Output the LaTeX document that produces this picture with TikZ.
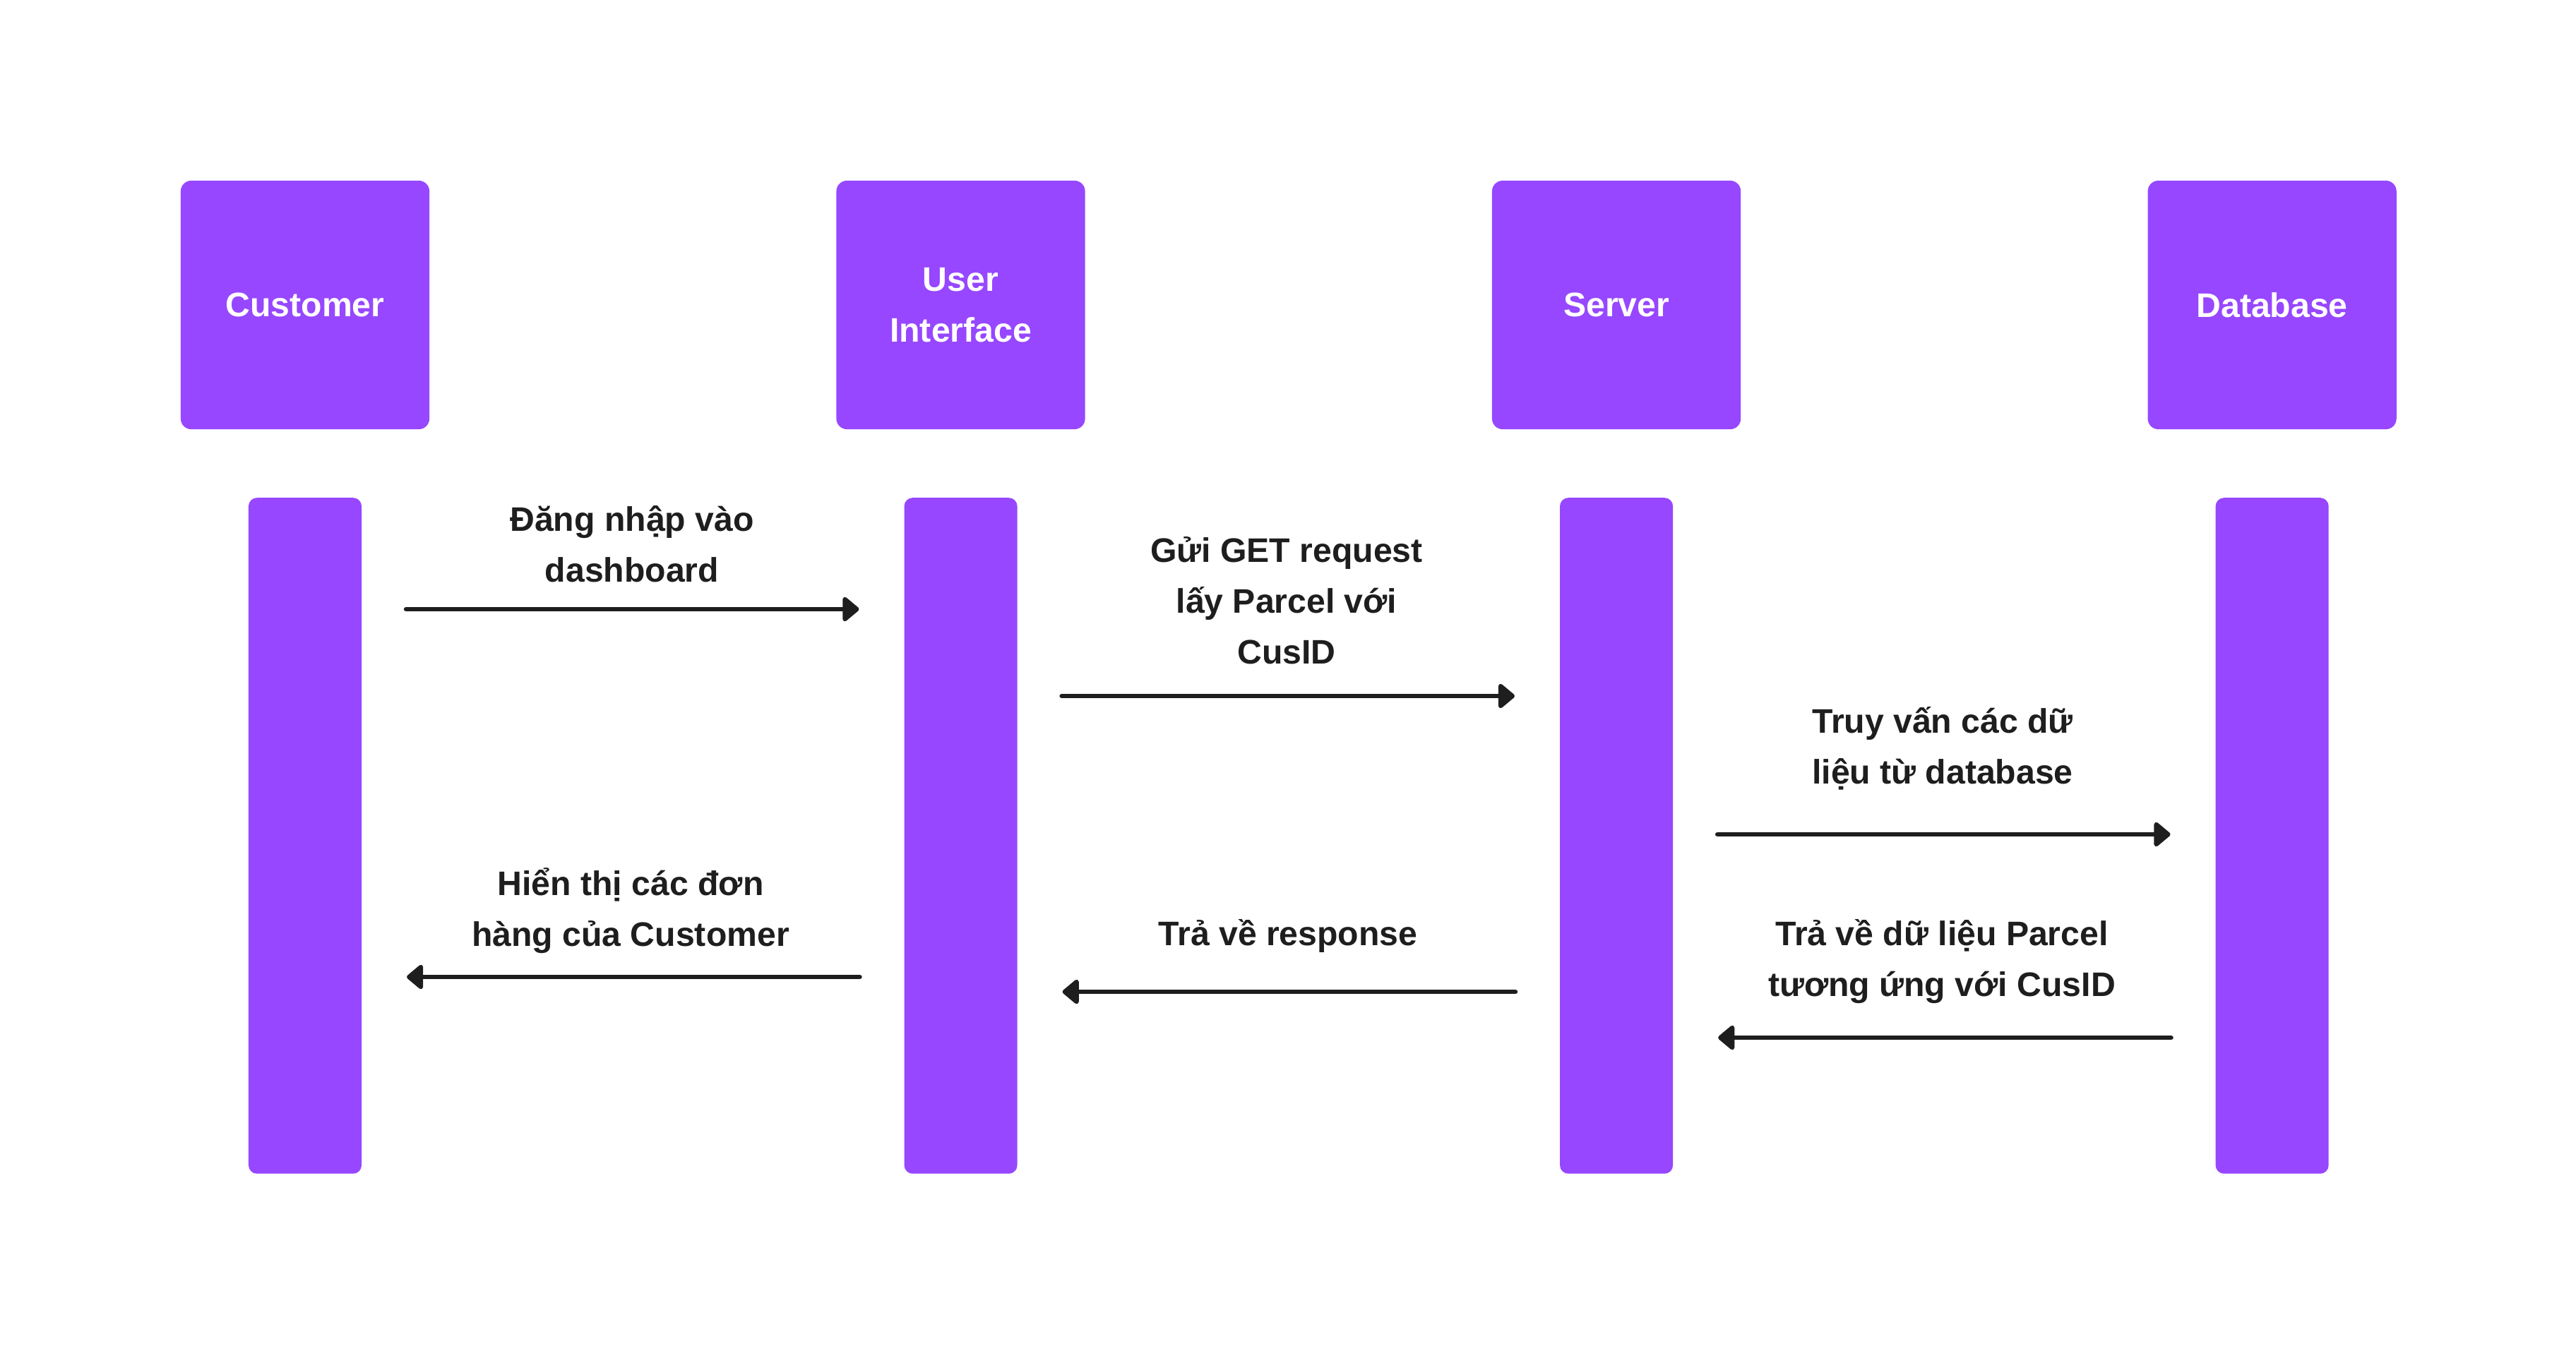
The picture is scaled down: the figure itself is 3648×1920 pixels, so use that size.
\documentclass[tikz,border=0pt]{standalone}
\usepackage{fontspec}
\setmainfont{Liberation Sans}
\usetikzlibrary{positioning,arrows.meta}
\definecolor{figpurple}{HTML}{9747FF}
\definecolor{ink}{HTML}{1E1E1E}
\newcommand{\seqfont}{\fontsize{13.7pt}{20.5pt}\selectfont\bfseries}
\tikzset{
  actor/.style={fill=figpurple,rounded corners=0.15cm,minimum width=3.52cm,minimum height=3.52cm,
    inner sep=0pt,outer sep=0pt,text=white,font=\seqfont,align=center},
  lifeline/.style={fill=figpurple,rounded corners=0.12cm,minimum width=1.6cm,minimum height=9.57cm,
    inner sep=0pt,outer sep=0pt},
  msg/.style={draw=ink,line width=1.85pt,line cap=round,-{Triangle[length=0.25cm,width=0.4cm,round]},
    shorten <=0.63cm,shorten >=0.64cm},
  msglabel/.style={text=ink,font=\seqfont,align=center,inner sep=0pt}
}
\begin{document}
\begin{tikzpicture}[x=0.01cm,y=-0.01cm]
\fill[white] (0,0) rectangle (3648,1920);
\useasboundingbox (0,0) rectangle (3648,1920);
\node[actor] (cust) at (432,432) {Customer};
\node[actor,right=5.76cm of cust] (ui) {User\\Interface};
\node[actor,right=5.76cm of ui] (srv) {Server};
\node[actor,right=5.76cm of srv] (db) {Database};
\node[lifeline,below=0.97cm of cust] (custbar) {};
\node[lifeline,below=0.97cm of ui] (uibar) {};
\node[lifeline,below=0.97cm of srv] (srvbar) {};
\node[lifeline,below=0.97cm of db] (dbbar) {};
\coordinate (m1) at (0,863);
\coordinate (m2) at (0,986);
\coordinate (m3) at (0,1182);
\coordinate (m4) at (0,1470);
\coordinate (m5) at (0,1405);
\coordinate (m6) at (0,1384);
\draw[msg] (custbar.east |- m1) -- (uibar.west |- m1);
\draw[msg] (uibar.east |- m2) -- (srvbar.west |- m2);
\draw[msg] (srvbar.east |- m3) -- (dbbar.west |- m3);
\draw[msg] (dbbar.west |- m4) -- (srvbar.east |- m4);
\draw[msg] (srvbar.west |- m5) -- (uibar.east |- m5);
\draw[msg] (uibar.west |- m6) -- (custbar.east |- m6);
\node[msglabel] (login) at (895,771) {Đăng nhập vào\\dashboard};
\node[msglabel] (getreq) at (1822,851) {Gửi GET request\\lấy Parcel với\\CusID};
\node[msglabel] (query) at (2751,1060) {Truy vấn các dữ\\liệu từ database};
\node[msglabel] (result) at (2750,1362) {Trả về dữ liệu Parcel\\tương ứng với CusID};
\node[msglabel] (resp) at (1824,1326) {Trả về response};
\node[msglabel] (show) at (893,1290) {Hiển thị các đơn\\hàng của Customer};
\end{tikzpicture}
\end{document}
